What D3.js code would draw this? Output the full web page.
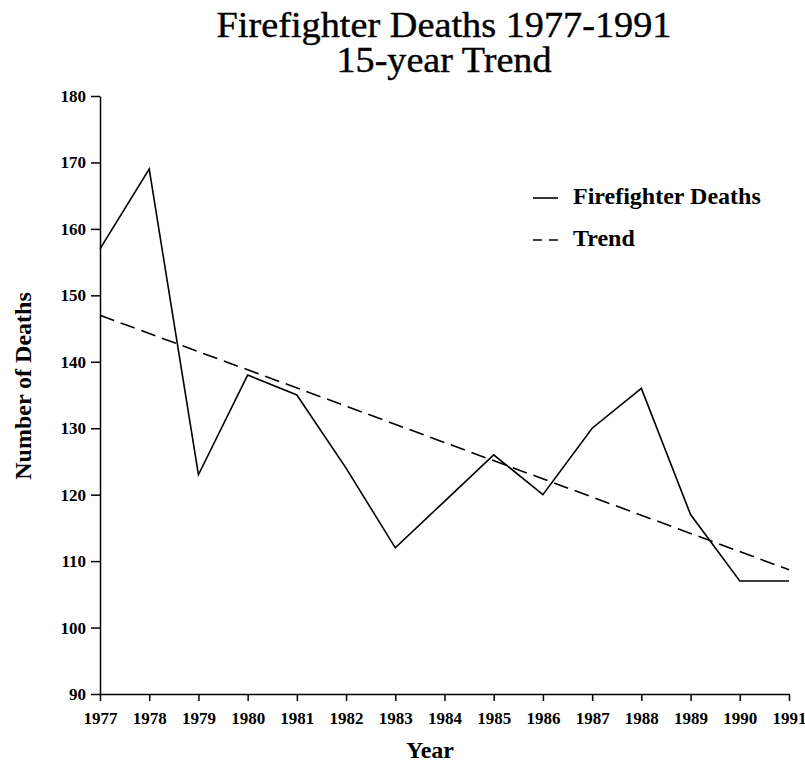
<!DOCTYPE html>
<html>
<head>
<meta charset="utf-8">
<script src="https://cdn.jsdelivr.net/npm/d3@7"></script>
<style>
  html, body { margin: 0; padding: 0; background: #fff; }
  svg { display: block; }
  text { font-family: "Liberation Serif", "Times New Roman", serif; fill: #000; }
</style>
</head>
<body>
<svg id="chart" width="805" height="764"></svg>
<script>
// ---- data ----
const years = [1977, 1978, 1979, 1980, 1981, 1982, 1983, 1984, 1985, 1986, 1987, 1988, 1989, 1990, 1991];
const deaths = [157, 169, 123, 138, 135, 124, 112, 119, 126, 120, 130, 136, 117, 107, 107];
const trendYears = [1977, 1991];
const trendValues = [147.0, 108.7];
const yTicks = [90, 100, 110, 120, 130, 140, 150, 160, 170, 180];
const titleLines = ["Firefighter Deaths 1977-1991", "15-year Trend"];
const legendLabels = ["Firefighter Deaths", "Trend"];

// ---- layout ----
const svg = d3.select("#chart");
const plotLeft = 100, plotRight = 789, plotTop = 96, plotBottom = 694;

const x = d3.scaleLinear().domain([1977, 1991]).range([plotLeft, plotRight]);
const y = d3.scaleLinear().domain([90, 180]).range([plotBottom, plotTop]);

// title
svg.append("text")
  .attr("x", 444).attr("y", 37)
  .attr("text-anchor", "middle")
  .attr("textLength", 455).attr("lengthAdjust", "spacingAndGlyphs")
  .style("font-size", "35px")
  .style("stroke", "#000").style("stroke-width", 0.4)
  .text(titleLines[0]);
svg.append("text")
  .attr("x", 444).attr("y", 72)
  .attr("text-anchor", "middle")
  .attr("textLength", 215).attr("lengthAdjust", "spacingAndGlyphs")
  .style("font-size", "35px")
  .style("stroke", "#000").style("stroke-width", 0.4)
  .text(titleLines[1]);

// axes
const yAxis = d3.axisLeft(y).tickValues(yTicks).tickSize(9).tickSizeOuter(0).tickPadding(5)
  .tickFormat(d3.format("d"));
const gy = svg.append("g").attr("transform", `translate(${plotLeft},0)`).call(yAxis);
gy.selectAll("text").style("font-size", "17px").style("font-weight", "bold")
  .style("font-family", "'Liberation Serif', serif");
gy.selectAll("line, path").attr("stroke", "#000").attr("stroke-width", 1.5);

const xAxis = d3.axisBottom(x).tickValues(years).tickSize(7).tickSizeOuter(0).tickPadding(11)
  .tickFormat(d3.format("d"));
const gx = svg.append("g").attr("transform", `translate(0,${plotBottom})`).call(xAxis);
gx.selectAll("text").style("font-size", "17px").style("font-weight", "bold")
  .style("font-family", "'Liberation Serif', serif");
gx.selectAll("line, path").attr("stroke", "#000").attr("stroke-width", 1.5);

// axis titles
svg.append("text")
  .attr("x", 430).attr("y", 758)
  .attr("text-anchor", "middle")
  .style("font-size", "24px").style("font-weight", "bold")
  .text("Year");
svg.append("text")
  .attr("transform", "translate(31,386) rotate(-90)")
  .attr("text-anchor", "middle")
  .style("font-size", "24px").style("font-weight", "bold")
  .text("Number of Deaths");

// lines
const line = d3.line().x(d => x(d[0])).y(d => y(d[1]));
svg.append("path")
  .datum(years.map((yr, i) => [yr, deaths[i]]))
  .attr("d", line)
  .attr("fill", "none").attr("stroke", "#000").attr("stroke-width", 1.6)
  .attr("stroke-linejoin", "miter");
svg.append("path")
  .datum(trendYears.map((yr, i) => [yr, trendValues[i]]))
  .attr("d", line)
  .attr("fill", "none").attr("stroke", "#000").attr("stroke-width", 1.6)
  .attr("stroke-dasharray", "15,7");

// legend
const legend = svg.append("g");
legend.append("line").attr("x1", 533).attr("x2", 558).attr("y1", 198).attr("y2", 198)
  .attr("stroke", "#000").attr("stroke-width", 1.6);
legend.append("text").attr("x", 573).attr("y", 204)
  .style("font-size", "24px").style("font-weight", "bold").text(legendLabels[0]);
legend.append("line").attr("x1", 533).attr("x2", 558).attr("y1", 240).attr("y2", 240)
  .attr("stroke", "#000").attr("stroke-width", 1.6).attr("stroke-dasharray", "9,7");
legend.append("text").attr("x", 573).attr("y", 246)
  .style("font-size", "24px").style("font-weight", "bold").text(legendLabels[1]);
</script>
</body>
</html>
